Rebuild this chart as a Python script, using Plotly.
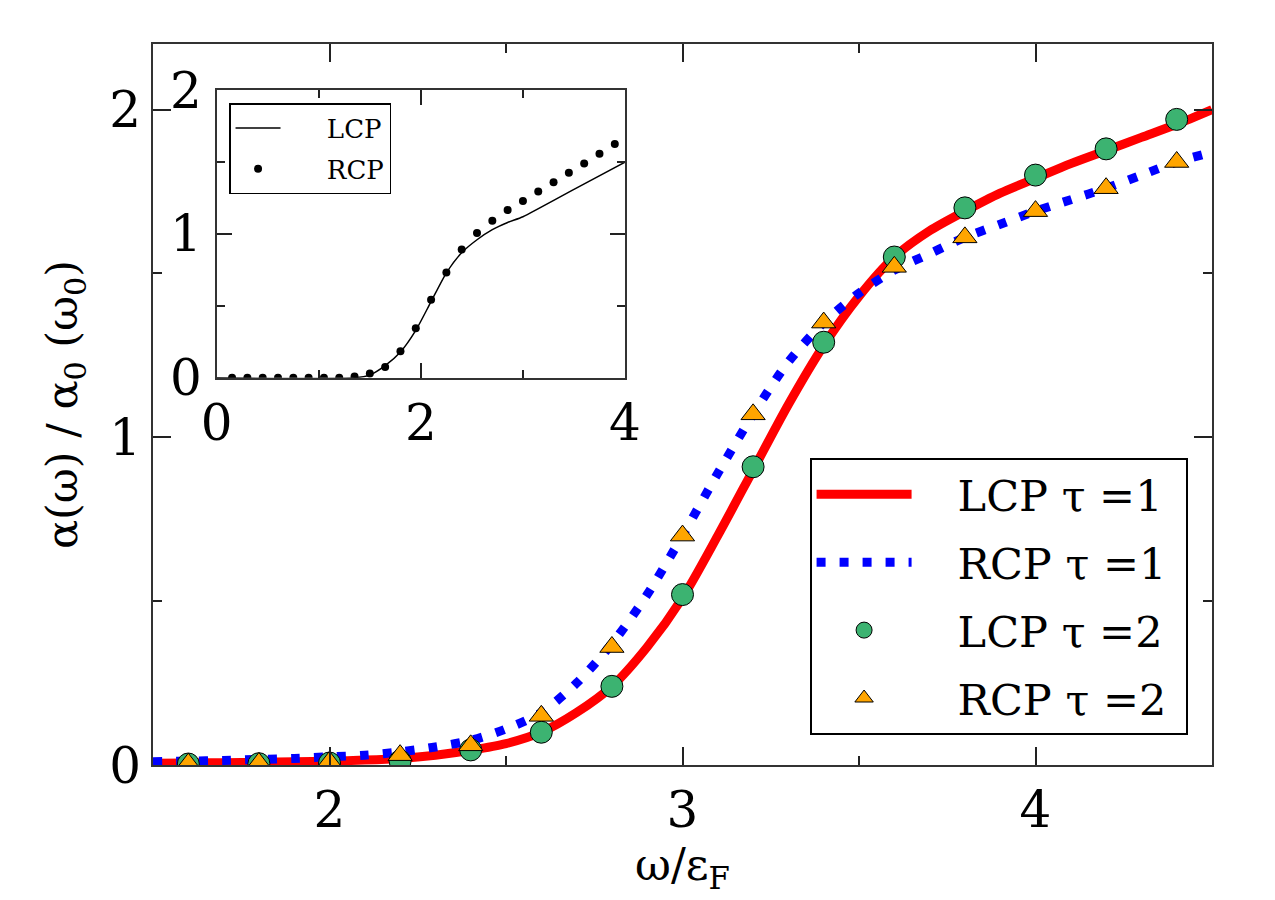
import plotly.graph_objects as go

# ---------------- main panel data ----------------
x_line = [1.5, 1.6, 1.7, 1.8, 1.9, 2.0, 2.1, 2.2, 2.3, 2.4, 2.5, 2.6, 2.7, 2.8, 2.9, 3.0,
          3.1, 3.2, 3.3, 3.4, 3.5, 3.6, 3.7, 3.8, 3.9, 4.0, 4.1, 4.2, 4.3, 4.4, 4.5]
lcp_tau1 = [0.005, 0.006, 0.007, 0.008, 0.010, 0.012, 0.015, 0.020, 0.030, 0.045, 0.065, 0.100,
            0.160, 0.240, 0.360, 0.510, 0.700, 0.900, 1.100, 1.280, 1.430, 1.550, 1.630, 1.690,
            1.745, 1.790, 1.835, 1.875, 1.915, 1.955, 2.000]
rcp_tau1 = [0.010, 0.012, 0.014, 0.017, 0.020, 0.025, 0.030, 0.040, 0.055, 0.075, 0.110, 0.160,
            0.250, 0.370, 0.520, 0.700, 0.890, 1.070, 1.230, 1.350, 1.440, 1.510, 1.560, 1.610,
            1.650, 1.690, 1.725, 1.760, 1.800, 1.840, 1.870]

x_mark = [1.6, 1.8, 2.0, 2.2, 2.4, 2.6, 2.8, 3.0, 3.2, 3.4, 3.6, 3.8, 4.0, 4.2, 4.4]
lcp_tau2 = [0.003, 0.004, 0.006, 0.012, 0.046, 0.10, 0.24, 0.52, 0.91, 1.29, 1.55, 1.70, 1.80, 1.88, 1.97]
rcp_tau2 = [0.004, 0.006, 0.010, 0.030, 0.060, 0.15, 0.36, 0.70, 1.07, 1.35, 1.52, 1.61, 1.69, 1.76, 1.84]

# ---------------- inset data ----------------
inset_x_line = [0.0, 1.35, 1.5, 1.65, 1.8, 1.95, 2.1, 2.25, 2.4, 2.55, 2.7, 2.85, 3.0, 3.5, 4.0]
inset_lcp = [0.0, 0.0, 0.02, 0.085, 0.18, 0.33, 0.53, 0.73, 0.87, 0.96, 1.03, 1.08, 1.12, 1.31, 1.50]
inset_x_dots = [0.15, 0.30, 0.45, 0.60, 0.75, 0.90, 1.05, 1.20, 1.35, 1.50, 1.65, 1.80, 1.95,
                2.10, 2.25, 2.40, 2.55, 2.70, 2.85, 3.00, 3.15, 3.30, 3.45, 3.60, 3.75, 3.90]
inset_rcp = [0.0, 0.0, 0.0, 0.0, 0.0, 0.0, 0.0, 0.0, 0.01, 0.03, 0.076, 0.185, 0.345,
             0.542, 0.732, 0.892, 1.006, 1.092, 1.166, 1.23, 1.295, 1.36, 1.425, 1.49, 1.557, 1.625]

x_ticks_main = [2, 3, 4]
y_ticks_main = [0, 1, 2]
x_ticks_inset = [0, 2, 4]
y_ticks_inset = [0, 1, 2]

SERIF = "DejaVu Serif"
NB = "\u00a0"

fig = go.Figure()

fig.add_trace(go.Scatter(x=x_line, y=lcp_tau1, mode="lines", name=NB * 3 + "LCP τ =1" + NB,
                         line=dict(color="#ff0000", width=9, shape="spline", smoothing=0.8),
                         legend="legend", legendgroup="a"))
fig.add_trace(go.Scatter(x=x_line, y=rcp_tau1, mode="lines", name=NB * 3 + "RCP τ =1" + NB,
                         line=dict(color="#0000ff", width=9, dash="9px,14px", shape="spline", smoothing=0.8),
                         legend="legend", legendgroup="b"))
fig.add_trace(go.Scatter(x=x_mark, y=lcp_tau2, mode="markers", name=NB * 3 + "LCP τ =2" + NB,
                         marker=dict(symbol="circle", size=22, color="#3cb371",
                                     line=dict(color="black", width=1)), legend="legend", legendgroup="c"))
fig.add_trace(go.Scatter(x=x_mark, y=rcp_tau2, mode="markers", name=NB * 3 + "RCP τ =2" + NB,
                         marker=dict(symbol="triangle-up", size=21, color="#ffa500",
                                     line=dict(color="black", width=1)), legend="legend", legendgroup="d"))

fig.add_trace(go.Scatter(x=inset_x_line, y=inset_lcp, mode="lines", name=NB * 5 + "LCP",
                         line=dict(color="black", width=1.5, shape="spline", smoothing=0.6),
                         xaxis="x2", yaxis="y2", legend="legend2", legendgroup="e"))
fig.add_trace(go.Scatter(x=inset_x_dots, y=inset_rcp, mode="markers", name=NB * 5 + "RCP",
                         marker=dict(color="black", size=8), xaxis="x2", yaxis="y2",
                         legend="legend2", legendgroup="f"))

axis_common = dict(showgrid=False, zeroline=False, showline=True, mirror="allticks",
                   ticks="inside", tickcolor="#222", linecolor="#333", linewidth=2, tickwidth=1.5,
                   tickfont=dict(family=SERIF, size=50, color="black"))

fig.update_layout(
    width=1275, height=900,
    margin=dict(l=153, r=63, t=44, b=135),
    paper_bgcolor="white", plot_bgcolor="white",
    font=dict(family=SERIF, color="black"),
    xaxis=dict(**axis_common, range=[1.5, 4.5], tickvals=x_ticks_main, ticklen=18,
               minor=dict(ticks="inside", ticklen=9, dtick=0.5, tick0=1.5, tickcolor="#222", showgrid=False),
               ticklabelstandoff=0,
               title=dict(text="ω/ε<sub>F</sub>", font=dict(family=SERIF, size=44), standoff=0)),
    yaxis=dict(**axis_common, range=[0, 2.2], tickvals=y_ticks_main, ticklen=18,
               minor=dict(ticks="inside", ticklen=9, dtick=0.5, tick0=0, tickcolor="#222", showgrid=False),
               ticklabelstandoff=0,
               title=dict(text="α(ω) / α<sub>0</sub> (ω<sub>0</sub>)", font=dict(family=SERIF, size=43), standoff=18)),
    xaxis2=dict(**axis_common, domain=[0.0602, 0.4457], anchor="y2", range=[0, 4],
                tickvals=x_ticks_inset, ticklen=15,
                minor=dict(ticks="inside", ticklen=8, dtick=1, tick0=0, tickcolor="#222", showgrid=False),
                ticklabelstandoff=0),
    yaxis2=dict(**axis_common, domain=[0.537, 0.936], anchor="x2", range=[0, 2],
                tickvals=y_ticks_inset, ticklen=15,
                minor=dict(ticks="inside", ticklen=8, dtick=0.5, tick0=0, tickcolor="#222", showgrid=False),
                ticklabelstandoff=3),
    legend=dict(x=0.620, y=0.426, xanchor="left", yanchor="top",
                bgcolor="white", bordercolor="black", borderwidth=2,
                font=dict(family=SERIF, size=43, color="black"),
                itemwidth=95, tracegroupgap=9, traceorder="grouped"),
    legend2=dict(x=0.0718, y=0.918, xanchor="left", yanchor="top",
                 bgcolor="white", bordercolor="black", borderwidth=1.5,
                 font=dict(family=SERIF, size=26, color="black"),
                 itemwidth=45, tracegroupgap=4, traceorder="grouped"),
)

fig.write_html("out.html")
